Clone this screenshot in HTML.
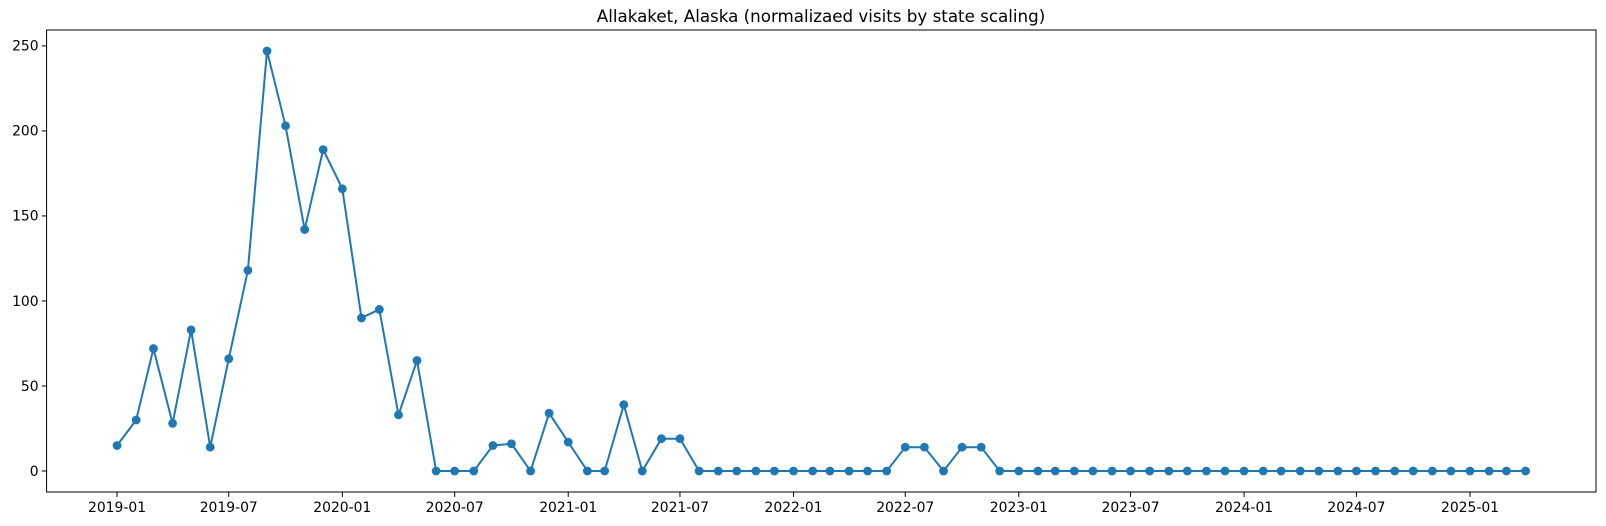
<!DOCTYPE html>
<html><head><meta charset="utf-8">
<style>
html,body{margin:0;padding:0;background:#fff;}
svg{display:block;font-family:"DejaVu Sans","Liberation Sans",sans-serif;}
</style></head>
<body>
<svg id="chart" width="1606" height="526" viewBox="0 0 1606 526" xmlns="http://www.w3.org/2000/svg">
<text x="821" y="22" text-anchor="middle" font-size="16.7" fill="#000">Allakaket, Alaska (normalizaed visits by state scaling)</text>
<g id="grid"></g>
</svg>
<script>
const startYear = 2019, startMonth = 1;
const values = [15,30,72,28,83,14,66,118,247,203,142,189,
166,90,95,33,65,0,0,0,15,16,0,34,
17,0,0,39,0,19,19,0,0,0,0,0,
0,0,0,0,0,0,14,14,0,14,14,0,
0,0,0,0,0,0,0,0,0,0,0,0,
0,0,0,0,0,0,0,0,0,0,0,0,
0,0,0,0];
const xTickLabels = ["2019-01","2019-07","2020-01","2020-07","2021-01","2021-07","2022-01","2022-07","2023-01","2023-07","2024-01","2024-07","2025-01"];
const yTicks = [0,50,100,150,200,250];

const svg = document.getElementById('chart');
const NS = 'http://www.w3.org/2000/svg';
const L = 46.6, R = 1596, T = 30, B = 492;
const dayMs = 86400000;
const dates = values.map((v,i)=>Date.UTC(startYear, startMonth-1+i, 1));
const d0 = dates[0], d1 = dates[dates.length-1];
const span = (d1-d0)/dayMs;
const xmin = -span*0.05, xmax = span*1.05;
function x(t){ const d=(t-d0)/dayMs; return L + (d-xmin)/(xmax-xmin)*(R-L); }
const vmax = Math.max(...values), vmin = Math.min(...values);
const ymin = vmin-(vmax-vmin)*0.05, ymax = vmax+(vmax-vmin)*0.05;
function y(v){ return B - (v-ymin)/(ymax-ymin)*(B-T); }
function mk(tag, attrs){ const e=document.createElementNS(NS,tag); for(const k in attrs) e.setAttribute(k,attrs[k]); svg.appendChild(e); return e; }

// axes frame
const frame = mk('rect',{x:L,y:T,width:R-L,height:B-T,fill:'none',stroke:'#000','stroke-width':1});



// y ticks
yTicks.forEach(v=>{
  const yy=y(v);
  const t=mk('line',{x1:L-4.9,x2:L,y1:yy,y2:yy,stroke:'#000','stroke-width':1});
  
  
  const lb=mk('text',{x:L-8,y:yy+4.8,'text-anchor':'end','font-size':13.9,fill:'#000'});
  lb.textContent=String(v);
  
  
});
// x ticks
xTickLabels.forEach(s=>{
  const [yr,mo]=s.split('-').map(Number);
  const xx=x(Date.UTC(yr,mo-1,1));
  const t=mk('line',{x1:xx,x2:xx,y1:B,y2:B+4.9,stroke:'#000','stroke-width':1});
  
  
  const lb=mk('text',{x:xx,y:B+20,'text-anchor':'middle','font-size':13.9,fill:'#000'});
  lb.textContent=s;
  
  
});
// line
const pts = values.map((v,i)=>x(dates[i]).toFixed(2)+','+y(v).toFixed(2)).join(' ');
const line = mk('polyline',{points:pts,fill:'none',stroke:'#1f77b4','stroke-width':2,'stroke-linejoin':'round'});


values.forEach((v,i)=>{
  const c=mk('circle',{cx:x(dates[i]),cy:y(v),r:4.4,fill:'#1f77b4'});
  
  
});
</script>
</body></html>
